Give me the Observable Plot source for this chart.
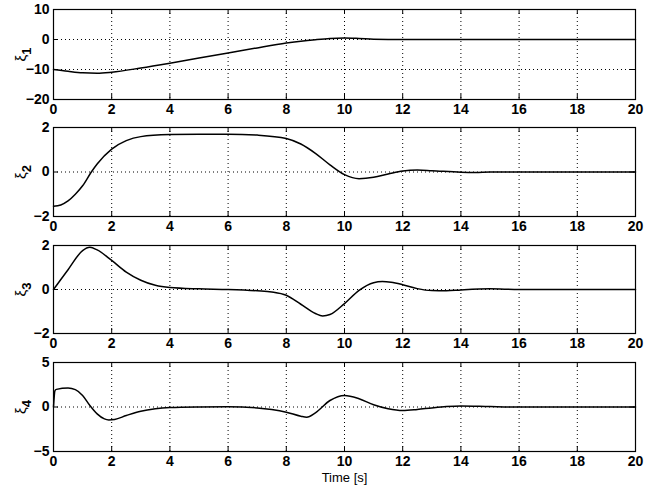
<!DOCTYPE html>
<html><head><meta charset="utf-8">
<script src="https://cdn.jsdelivr.net/npm/d3@7"></script>
<script src="https://cdn.jsdelivr.net/npm/@observablehq/plot@0.6"></script>
<style>
body{margin:0;background:#fff;}
#chart{position:relative;width:670px;height:490px;overflow:hidden;background:#fff;}
.panel{position:absolute;left:0;}
</style></head><body><div id="chart"></div>
<script>
// ---- data ----
const xTicks = [0, 2, 4, 6, 8, 10, 12, 14, 16, 18, 20];

const t1  = [0, 0.5, 1, 1.5, 2, 3, 4, 5, 6, 7, 8, 8.5, 9, 9.5, 10, 10.5, 11, 12, 14, 20];
const xi1 = [-10, -10.6, -11.1, -11.25, -10.9, -9.5, -7.9, -6.2, -4.5, -2.8, -1.2, -0.55, -0.05, 0.35, 0.5, 0.35, 0.12, 0, 0, 0];
const yTicks1 = [-20, -10, 0, 10];

const t2  = [0, 0.25, 0.5, 0.75, 1, 1.3, 1.5, 2, 2.5, 3, 4, 5, 6, 7, 8, 8.5, 9, 9.5, 10, 10.5, 11, 11.5, 12, 12.5, 13, 14, 14.5, 15, 20];
const xi2 = [-1.54, -1.48, -1.3, -1.0, -0.62, 0, 0.36, 1.03, 1.41, 1.59, 1.68, 1.7, 1.7, 1.66, 1.51, 1.26, 0.84, 0.32, -0.12, -0.3, -0.24, -0.09, 0.05, 0.09, 0.06, -0.01, -0.02, 0, 0];
const yTicks2 = [-2, 0, 2];

const t3  = [0, 0.5, 1, 1.25, 1.5, 2, 2.5, 3, 3.5, 4, 5, 6, 7, 7.5, 8, 8.5, 9, 9.25, 9.5, 10, 10.5, 11, 11.3, 11.6, 12, 12.5, 13, 13.5, 14, 15, 16, 20];
const xi3 = [0, 0.9, 1.77, 1.92, 1.8, 1.32, 0.79, 0.42, 0.19, 0.09, 0.03, 0, -0.06, -0.11, -0.26, -0.67, -1.09, -1.2, -1.14, -0.64, -0.04, 0.31, 0.36, 0.33, 0.22, 0.04, -0.05, -0.06, -0.02, 0.03, 0, 0];
const yTicks3 = [-2, 0, 2];

const t4  = [0, 0.05, 0.1, 0.5, 0.75, 1, 1.25, 1.5, 1.75, 1.9, 2.1, 2.5, 3, 3.5, 4, 5, 6, 7, 7.5, 8, 8.5, 8.7, 9, 9.5, 10, 10.5, 11, 11.5, 12, 12.5, 13, 13.5, 14, 15, 16, 20];
const xi4 = [0, 1.85, 1.98, 2.13, 1.95, 1.3, 0.17, -0.77, -1.34, -1.45, -1.4, -0.96, -0.47, -0.2, -0.07, 0, 0.02, -0.1, -0.28, -0.58, -1.04, -1.15, -0.66, 0.73, 1.3, 0.93, 0.25, -0.2, -0.4, -0.28, -0.1, 0.05, 0.12, 0.05, 0, 0];
const yTicks4 = [-5, 0, 5];

const yLabels = ["1", "2", "3", "4"];
const xLabel = "Time [s]";

// ---- layout (not data) ----
const layout = [
  {t: t1, v: xi1, ticks: yTicks1, top: 0,   mt: 9,  inner: 90, mb: 19},
  {t: t2, v: xi2, ticks: yTicks2, top: 118, mt: 9,  inner: 89, mb: 19},
  {t: t3, v: xi3, ticks: yTicks3, top: 235, mt: 10, inner: 88, mb: 19},
  {t: t4, v: xi4, ticks: yTicks4, top: 352, mt: 10, inner: 89, mb: 39}
];

const W = 670, ML = 53, MR = 35, innerW = W - ML - MR, TK = 5;
const chart = document.getElementById("chart");
const dot = {stroke: "#000", strokeOpacity: 1, strokeWidth: 1, strokeDasharray: "1,3"};

layout.forEach((p, i) => {
  const data = p.t.map((t, j) => ({t, v: p.v[j]}));
  const last = i === layout.length - 1;
  const dom = [p.ticks[0], p.ticks[p.ticks.length - 1]];
  const svg = Plot.plot({
    width: W, height: p.mt + p.inner + p.mb,
    marginLeft: ML, marginRight: MR, marginTop: p.mt, marginBottom: p.mb,
    style: {fontFamily: "'Liberation Sans', Arial, sans-serif", fontSize: "14px", color: "#000", background: "transparent", overflow: "visible"},
    x: {domain: [0, 20]},
    y: {domain: dom},
    marks: [
      Plot.gridX(xTicks, dot),
      Plot.gridY(p.ticks, dot),
      Plot.tickX(xTicks, {x: d => d, insetTop: p.inner - TK, stroke: "#000"}),
      Plot.tickX(xTicks, {x: d => d, insetBottom: p.inner - TK, stroke: "#000"}),
      Plot.tickY(p.ticks, {y: d => d, insetRight: innerW - TK, stroke: "#000"}),
      Plot.tickY(p.ticks, {y: d => d, insetLeft: innerW - TK, stroke: "#000"}),
      Plot.line(data, {x: "t", y: "v", curve: "monotone-x", stroke: "#000", strokeWidth: 1.5}),
      Plot.frame({stroke: "#000", strokeWidth: 1.2}),
      Plot.axisX(xTicks, {tickSize: 0, tickPadding: 5, fontWeight: "bold",
        label: last ? xLabel : null, labelAnchor: "center", labelArrow: "none", labelOffset: 30}),
      Plot.axisY(p.ticks, {tickSize: 0, tickPadding: 4, fontWeight: "bold",
        tickFormat: d => (d < 0 ? "\u2212" : "") + Math.abs(d),
        label: "ξ" + yLabels[i], labelAnchor: "center", labelArrow: "none", labelOffset: 38})
    ]
  });
  // subscript for the ξ label
  svg.querySelectorAll("text").forEach(el => {
    if (el.textContent === "ξ" + yLabels[i]) {
      el.textContent = "ξ";
      el.setAttribute("font-weight", "normal");
      el.setAttribute("font-size", "15px");
      const ts = document.createElementNS("http://www.w3.org/2000/svg", "tspan");
      ts.setAttribute("dy", "0.35em");
      ts.setAttribute("font-size", "13px");
      ts.setAttribute("font-weight", "bold");
      ts.textContent = yLabels[i];
      el.appendChild(ts);
    }
    if (el.textContent === xLabel) { el.setAttribute("font-weight", "normal"); el.setAttribute("font-size", "13px"); }
  });
  const div = document.createElement("div");
  div.className = "panel";
  div.style.top = p.top + "px";
  div.appendChild(svg);
  chart.appendChild(div);
});
</script>
</body></html>
